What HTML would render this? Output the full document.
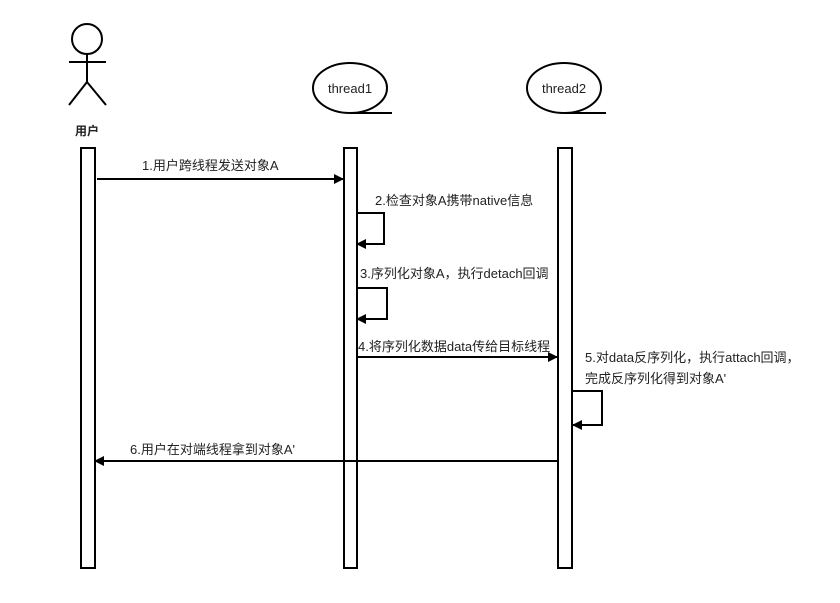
<!DOCTYPE html>
<html><head><meta charset="utf-8"><style>
html,body{margin:0;padding:0;background:#fff;}
text{font-family:"Liberation Sans","Noto Sans CJK SC",sans-serif;font-size:13px;fill:#222;}
</style></head><body>
<svg width="840" height="598" viewBox="0 0 840 598" xmlns="http://www.w3.org/2000/svg">
<defs><marker id="a" markerWidth="10" markerHeight="10" refX="9" refY="5" orient="auto" markerUnits="userSpaceOnUse"><path d="M0,0 L10,5 L0,10 z" fill="#000"/></marker></defs>
<g stroke="#000" stroke-width="2" fill="none">
<circle cx="87" cy="39" r="15"/>
<line x1="87" y1="54" x2="87" y2="82"/>
<line x1="69" y1="62" x2="106" y2="62"/>
<line x1="87" y1="82" x2="69" y2="105"/>
<line x1="87" y1="82" x2="106" y2="105"/>
<ellipse cx="350" cy="88" rx="37" ry="25"/>
<line x1="350" y1="113" x2="392" y2="113"/>
<ellipse cx="564" cy="88" rx="37" ry="25"/>
<line x1="564" y1="113" x2="606" y2="113"/>
<rect x="81" y="148" width="14" height="420" fill="#fff"/>
<rect x="344" y="148" width="13" height="420" fill="#fff"/>
<rect x="558" y="148" width="14" height="420" fill="#fff"/>
</g>
<g stroke="#000" stroke-width="2" fill="none">
<line x1="97" y1="179" x2="343" y2="179" marker-end="url(#a)"/>
<polyline points="356,213 384,213 384,244 357,244" marker-end="url(#a)"/>
<polyline points="357,288 387,288 387,319 357,319" marker-end="url(#a)"/>
<line x1="358" y1="357" x2="557" y2="357" marker-end="url(#a)"/>
<polyline points="573,391 602,391 602,425 573,425" marker-end="url(#a)"/>
<line x1="557" y1="461" x2="95" y2="461" marker-end="url(#a)"/>
</g>
<text x="350" y="93" text-anchor="middle">thread1</text>
<text x="564" y="93" text-anchor="middle">thread2</text>
<text x="87" y="135" text-anchor="middle" style="font-weight:bold;font-size:12px">用户</text>
<text x="142" y="170">1.用户跨线程发送对象A</text>
<text x="375" y="205">2.检查对象A携带native信息</text>
<text x="360" y="278">3.序列化对象A，执行detach回调</text>
<text x="358" y="351">4.将序列化数据data传给目标线程</text>
<text x="585" y="362">5.对data反序列化，执行attach回调，</text>
<text x="585" y="383">完成反序列化得到对象A'</text>
<text x="130" y="454">6.用户在对端线程拿到对象A'</text>
</svg>
</body></html>
